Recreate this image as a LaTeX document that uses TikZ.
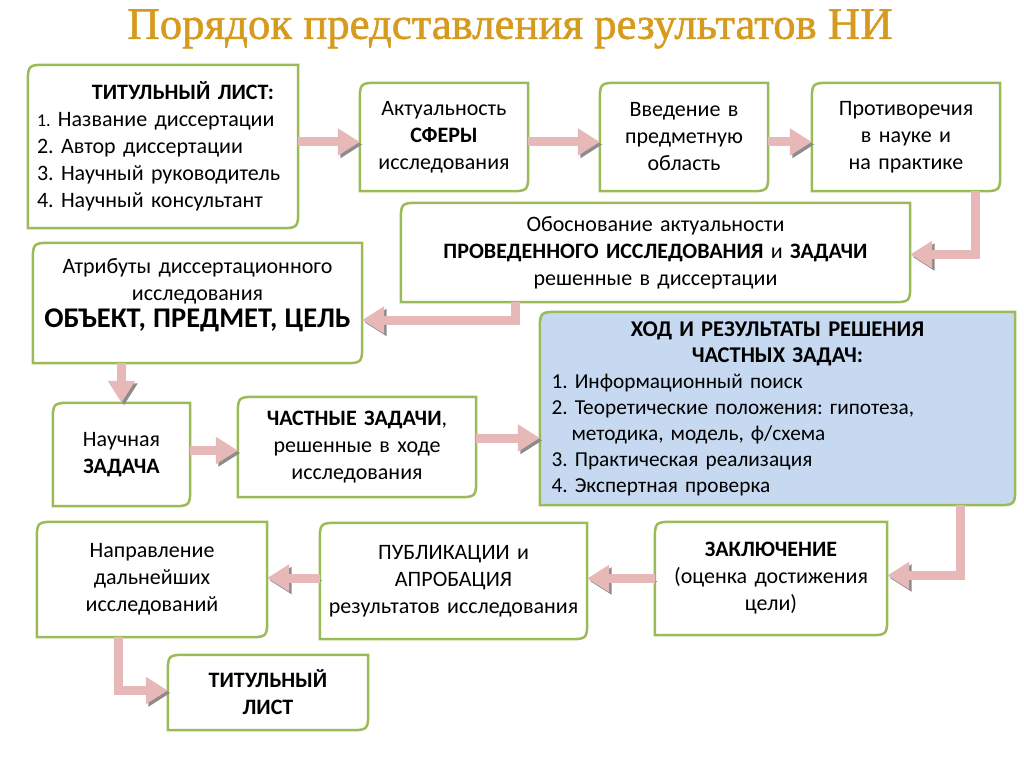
\documentclass[tikz,border=0pt]{standalone}
\usepackage{fontspec}
\setmainfont{Carlito}
\newfontfamily\titlefont[FakeBold=1.2]{Liberation Serif}
\usepackage{xcolor}
\definecolor{boxGreen}{HTML}{9BBB59}
\definecolor{boxBlue}{HTML}{C6D9F1}
\definecolor{arrowPink}{HTML}{E6B9B8}
\definecolor{arrowShade}{HTML}{8C8C8C}
\definecolor{titleGold}{HTML}{D69B1E}
\usepackage{tikz}
\usetikzlibrary{arrows.meta,backgrounds}

% frame with the top left and bottom right corners rounded
\newcommand{\stageframe}[2]{%
  \draw[frame, fill=#2] ([yshift=-20pt]#1.north west) .. controls (#1.north west) .. ([xshift=20pt]#1.north west)
    -- (#1.north east) -- ([yshift=20pt]#1.south east) .. controls (#1.south east) .. ([xshift=-20pt]#1.south east)
    -- (#1.south west) -- cycle;}

\begin{document}
\frenchspacing
\begin{tikzpicture}[x=1pt, y=-1pt,
  stage/.style={inner sep=0pt, align=center, font=\fontsize{22}{27}\selectfont},
  frame/.style={draw=boxGreen, line width=2.5pt},
  flow/.style={line width=9pt, arrowPink, -{Triangle[length=22pt,width=26pt]},
    preaction={draw=arrowShade, transform canvas={shift={(2.5pt,-2.5pt)}}}}]
  \useasboundingbox (0,0) rectangle (1024,767);
  % title
  \node[text=titleGold, font=\titlefont\fontsize{44.8}{50}\selectfont] (heading) at (510,29)
    {Порядок представления результатов НИ};
  % first row
  \node[stage, minimum width=270pt, minimum height=163pt, text width=252pt, align=left] (titlepage) at (163,146.5)
    {\makebox[\linewidth]{\hspace{40pt}\textbf{ТИТУЛЬНЫЙ ЛИСТ:}}\\
     {\fontsize{18}{27}\selectfont 1.} Название диссертации\\
     2. Автор диссертации\\
     3. Научный руководитель\\
     4. Научный консультант};
  \node[stage, minimum width=168pt, minimum height=108pt, text width=160pt] (sphere) at (444,137)
    {Актуальность\\ \textbf{СФЕРЫ}\\ исследования};
  \node[stage, minimum width=168pt, minimum height=108pt, text width=160pt] (intro) at (684,137)
    {Введение в\\ предметную\\ область};
  \node[stage, minimum width=188pt, minimum height=108pt, text width=180pt] (conflicts) at (906,137)
    {Противоречия\\ в науке и\\ на практике};
  % second row
  \node[stage, minimum width=509pt, minimum height=99pt, text width=495pt] (grounds) at (655.5,252.5)
    {Обоснование актуальности\\
     \textbf{ПРОВЕДЕННОГО ИССЛЕДОВАНИЯ} и \textbf{ЗАДАЧИ}\\
     решенные в диссертации};
  \node[stage, minimum width=329pt, minimum height=120pt, text width=320pt] (attributes) at (197.5,303)
    {Атрибуты диссертационного\\ исследования\\
     {\fontsize{28.5}{31}\selectfont\textbf{ОБЪЕКТ, ПРЕДМЕТ, ЦЕЛЬ}}\rule[-20pt]{0pt}{0pt}};
  % third row
  \node[stage, minimum width=475pt, minimum height=193pt, text width=452pt, align=left,
    font=\fontsize{21.3}{26}\selectfont] (progress) at (777.5,408.5)
    {\makebox[\linewidth]{\fontsize{22.5}{27}\selectfont\textbf{ХОД И РЕЗУЛЬТАТЫ РЕШЕНИЯ}}\\
     \makebox[\linewidth]{\fontsize{22.5}{27}\selectfont\textbf{ЧАСТНЫХ ЗАДАЧ:}}\\
     1. Информационный поиск\\
     2. Теоретические положения: гипотеза,\\
     \hspace*{20pt}методика, модель, ф/схема\\
     3. Практическая реализация\\
     4. Экспертная проверка};
  \node[stage, minimum width=137pt, minimum height=103pt, text width=130pt] (problem) at (121.5,454.5)
    {Научная\\ \textbf{ЗАДАЧА}};
  \node[stage, minimum width=238pt, minimum height=100pt, text width=228pt] (subtasks) at (357,447)
    {\textbf{ЧАСТНЫЕ ЗАДАЧИ},\\ решенные в ходе\\ исследования};
  % fourth row
  \node[stage, minimum width=232pt, minimum height=113pt, text width=224pt] (conclusion) at (771,578.5)
    {\textbf{ЗАКЛЮЧЕНИЕ}\\ (оценка достижения\\ цели)};
  \node[stage, minimum width=267pt, minimum height=116pt, text width=262pt] (approval) at (453.5,581)
    {ПУБЛИКАЦИИ и\\ АПРОБАЦИЯ\\ результатов исследования};
  \node[stage, minimum width=230pt, minimum height=115pt, text width=220pt] (further) at (152,579.5)
    {Направление\\ дальнейших\\ исследований};
  \node[stage, minimum width=200pt, minimum height=75pt, text width=190pt] (titlepageend) at (268,692.5)
    {\textbf{ТИТУЛЬНЫЙ}\\ \textbf{ЛИСТ}};
  % frames
  \begin{scope}[on background layer]
    \foreach \b in {titlepage,sphere,intro,conflicts,grounds,attributes,problem,subtasks,conclusion,approval,further,titlepageend}
      {\stageframe{\b}{white}}
    \stageframe{progress}{boxBlue}
  \end{scope}
  % arrows
  \draw[flow] ([yshift=-5pt]sphere.west -| titlepage.east) -- ([yshift=-5pt]sphere.west);
  \draw[flow] ([yshift=-5pt]sphere.east) -- ([yshift=-5pt]sphere.east -| intro.west);
  \draw[flow] ([yshift=-5pt]intro.east) -- ([yshift=-5pt]intro.east -| conflicts.west);
  \draw[flow] ([xshift=69pt]conflicts.south) |- ([yshift=-2pt]grounds.east);
  \draw[flow] ([xshift=-140pt]grounds.south) |- ([yshift=-17pt]attributes.east);
  \draw[flow] (attributes.south -| problem.north) -- (problem.north);
  \draw[flow] ([yshift=4pt]problem.east) -- ([yshift=4pt]problem.east -| subtasks.west);
  \draw[flow] ([yshift=9pt]subtasks.east) -- ([yshift=9pt]subtasks.east -| progress.west);
  \draw[flow] ([xshift=182.5pt]progress.south) |- ([yshift=3pt]conclusion.east);
  \draw[flow] (conclusion.west) -- (conclusion.west -| approval.east);
  \draw[flow] ([yshift=3pt]approval.west) -- ([yshift=3pt]approval.west -| further.east);
  \draw[flow] ([xshift=-34pt]further.south) |- ([yshift=2pt]titlepageend.west);
\end{tikzpicture}
\end{document}
